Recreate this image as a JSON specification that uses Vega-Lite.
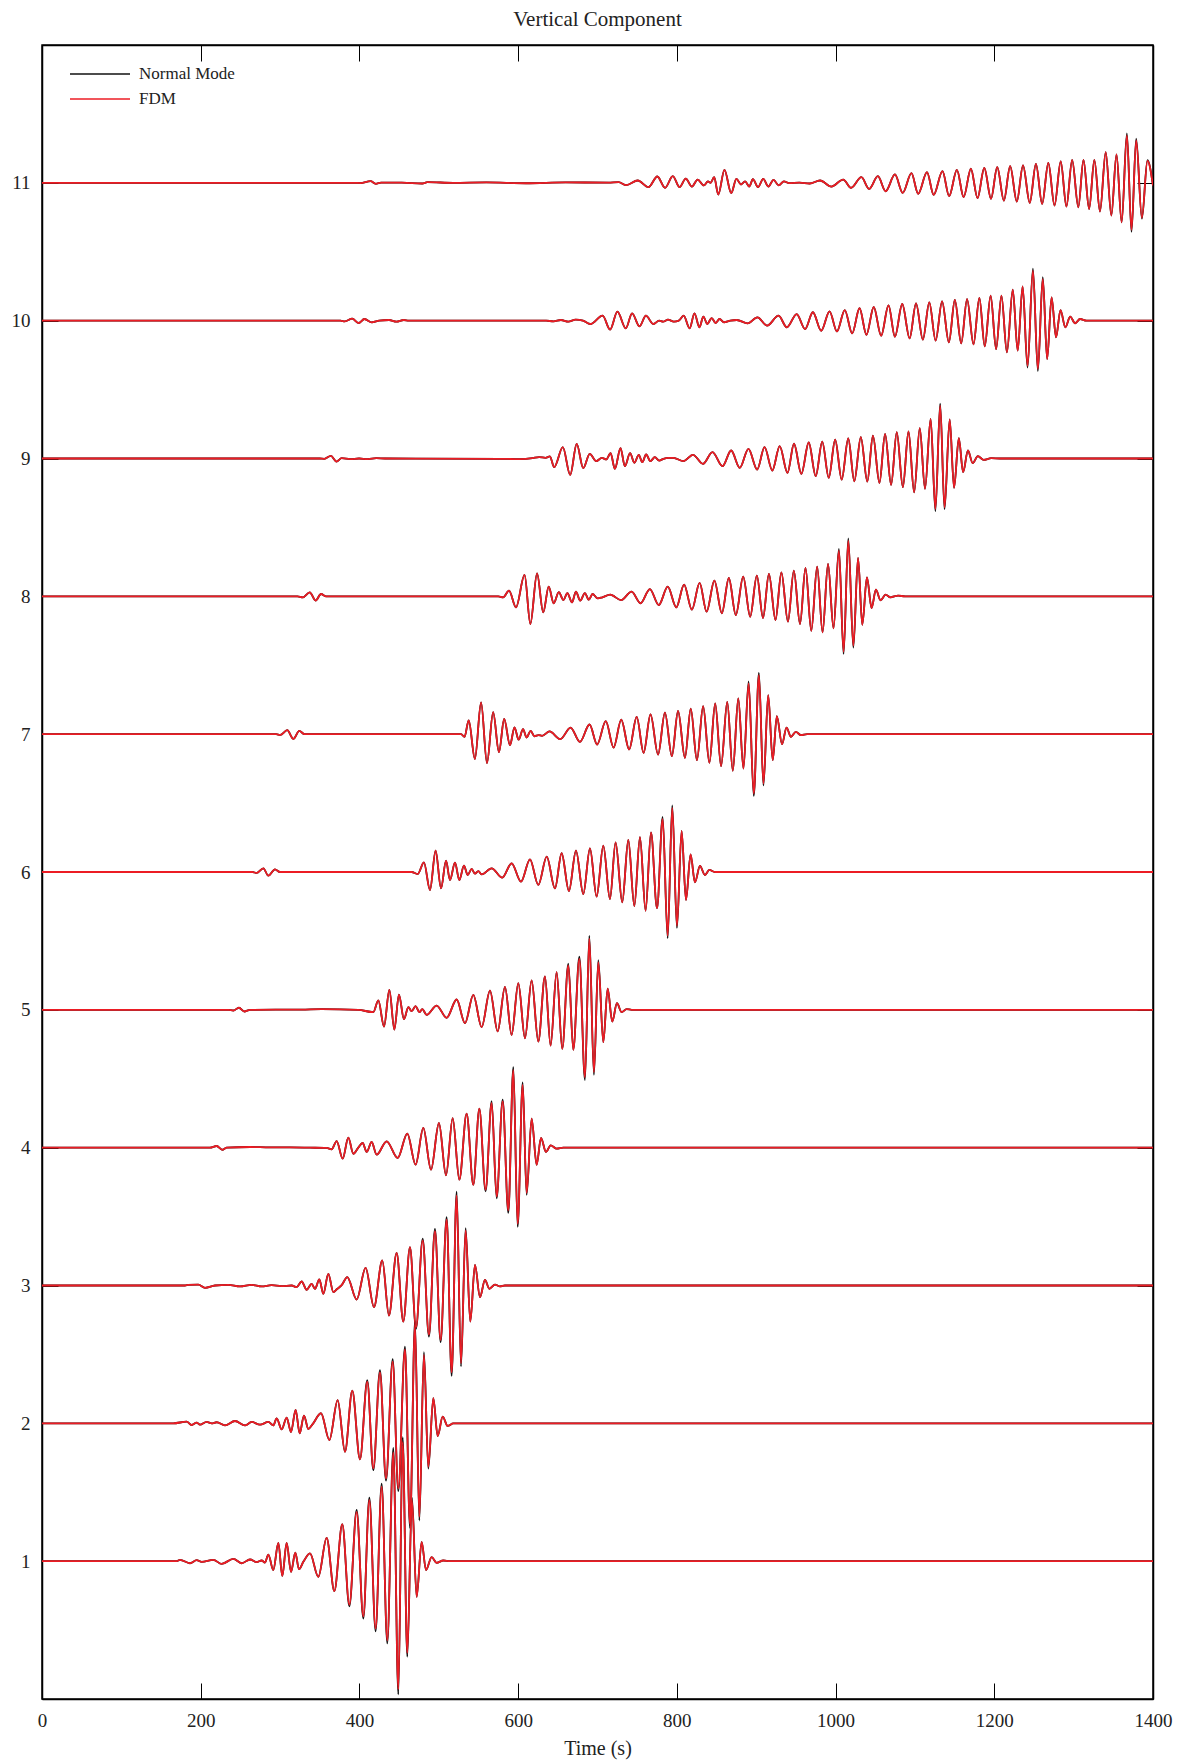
{
"$schema":"https://vega.github.io/schema/vega-lite/v6.json",
"width":1111,"height":1654,
"autosize":{"type":"none"},
"padding":{"left":42,"top":45,"right":35,"bottom":65},
"background":"white",
"title":{"text":"Vertical Component","font":"Liberation Serif","fontSize":21,"fontWeight":"normal","color":"#222","offset":15},
"config":{"view":{"stroke":"black","strokeWidth":1.5},"font":"Liberation Serif"},
"datasets":{"w":[
{"k":1,"t":0,"f":1,"n":1},{"k":1,"t":169.7,"f":1,"n":1},{"k":1,"t":173.9,"f":1.01,"n":1.01},{"k":1,"t":186.5,"f":0.985,"n":0.985},{"k":1,"t":194.9,"f":1.007,"n":1.007},{"k":1,"t":201.2,"f":0.995,"n":0.995},{"k":1,"t":215.9,"f":1.01,"n":1.01},{"k":1,"t":226.4,"f":0.98,"n":0.98},{"k":1,"t":241.1,"f":1.017,"n":1.017},{"k":1,"t":251.6,"f":0.985,"n":0.985},{"k":1,"t":262.1,"f":1.012,"n":1.012},{"k":1,"t":270.5,"f":0.993,"n":0.993},{"k":1,"t":276.8,"f":1.005,"n":1.005},{"k":1,"t":281,"f":0.99,"n":0.99},{"k":1,"t":285.2,"f":1.048,"n":1.048},{"k":1,"t":291.5,"f":0.935,"n":0.935},{"k":1,"t":297.8,"f":1.133,"n":1.133},{"k":1,"t":302.8,"f":0.893,"n":0.893},{"k":1,"t":308.3,"f":1.133,"n":1.133},{"k":1,"t":313.8,"f":0.923,"n":0.923},{"k":1,"t":319.2,"f":1.061,"n":1.061},{"k":1,"t":323.8,"f":0.942,"n":0.942},{"k":1,"t":329.3,"f":0.995,"n":0.995},{"k":1,"t":337.7,"f":1.056,"n":1.056},{"k":1,"t":348.2,"f":0.887,"n":0.887},{"k":1,"t":358.7,"f":1.169,"n":1.169},{"k":1,"t":368.4,"f":0.782,"n":0.782},{"k":1,"t":378.4,"f":1.269,"n":1.269},{"k":1,"t":387.3,"f":0.685,"n":0.672},{"k":1,"t":396.5,"f":1.358,"n":1.372},{"k":1,"t":404.9,"f":0.6,"n":0.584},{"k":1,"t":412.5,"f":1.443,"n":1.461},{"k":1,"t":420.4,"f":0.511,"n":0.491},{"k":1,"t":428,"f":1.54,"n":1.562},{"k":1,"t":435.1,"f":0.426,"n":0.403},{"k":1,"t":442.7,"f":1.79,"n":1.822},{"k":1,"t":449,"f":0.07,"n":0.033},{"k":1,"t":454.5,"f":1.866,"n":1.9},{"k":1,"t":460.3,"f":0.334,"n":0.307},{"k":1,"t":466.2,"f":1.443,"n":1.461},{"k":1,"t":472.1,"f":0.741,"n":0.741},{"k":1,"t":478.4,"f":1.14,"n":1.14},{"k":1,"t":483.9,"f":0.935,"n":0.935},{"k":1,"t":491,"f":1.03,"n":1.03},{"k":1,"t":497.3,"f":0.988,"n":0.988},{"k":1,"t":505.7,"f":1.005,"n":1.005},{"k":1,"t":514.1,"f":1,"n":1},{"k":1,"t":1400,"f":1,"n":1},
{"k":2,"t":0,"f":2,"n":2},{"k":2,"t":165.5,"f":2,"n":2},{"k":2,"t":182.3,"f":2.012,"n":2.012},{"k":2,"t":188.6,"f":1.988,"n":1.988},{"k":2,"t":194.9,"f":2.005,"n":2.005},{"k":2,"t":199.1,"f":1.99,"n":1.99},{"k":2,"t":207.5,"f":2.01,"n":2.01},{"k":2,"t":213.8,"f":2,"n":2},{"k":2,"t":220.1,"f":2.008,"n":2.008},{"k":2,"t":230.6,"f":1.985,"n":1.985},{"k":2,"t":243.2,"f":2.017,"n":2.017},{"k":2,"t":255.8,"f":1.985,"n":1.985},{"k":2,"t":264.2,"f":2.01,"n":2.01},{"k":2,"t":274.7,"f":1.99,"n":1.99},{"k":2,"t":285.2,"f":2.01,"n":2.01},{"k":2,"t":291.5,"f":1.985,"n":1.985},{"k":2,"t":295.7,"f":2.036,"n":2.036},{"k":2,"t":302,"f":1.956,"n":1.956},{"k":2,"t":308.3,"f":2.041,"n":2.041},{"k":2,"t":313.8,"f":1.937,"n":1.937},{"k":2,"t":319.6,"f":2.097,"n":2.097},{"k":2,"t":324.7,"f":1.927,"n":1.927},{"k":2,"t":330.1,"f":2.056,"n":2.056},{"k":2,"t":335.6,"f":1.959,"n":1.959},{"k":2,"t":340.6,"f":1.99,"n":1.99},{"k":2,"t":351.6,"f":2.073,"n":2.073},{"k":2,"t":362.1,"f":1.879,"n":1.879},{"k":2,"t":372.6,"f":2.169,"n":2.169},{"k":2,"t":381.8,"f":1.794,"n":1.794},{"k":2,"t":391,"f":2.237,"n":2.237},{"k":2,"t":400.7,"f":1.738,"n":1.738},{"k":2,"t":409.9,"f":2.302,"n":2.314},{"k":2,"t":417.5,"f":1.673,"n":1.66},{"k":2,"t":425.9,"f":2.37,"n":2.385},{"k":2,"t":433.5,"f":1.6,"n":1.584},{"k":2,"t":441.9,"f":2.448,"n":2.466},{"k":2,"t":449,"f":1.528,"n":1.509},{"k":2,"t":457.4,"f":2.536,"n":2.557},{"k":2,"t":463.7,"f":1.27,"n":1.241},{"k":2,"t":470,"f":2.714,"n":2.743},{"k":2,"t":475.5,"f":1.322,"n":1.295},{"k":2,"t":481.3,"f":2.496,"n":2.516},{"k":2,"t":486.8,"f":1.685,"n":1.672},{"k":2,"t":493.1,"f":2.182,"n":2.182},{"k":2,"t":498.6,"f":1.908,"n":1.908},{"k":2,"t":504.9,"f":2.048,"n":2.048},{"k":2,"t":511.2,"f":1.981,"n":1.981},{"k":2,"t":518.3,"f":2,"n":2},{"k":2,"t":1400,"f":2,"n":2},
{"k":3,"t":0,"f":3,"n":3},{"k":3,"t":180.2,"f":3,"n":3},{"k":3,"t":184.4,"f":3.005,"n":3.005},{"k":3,"t":197,"f":3.007,"n":3.007},{"k":3,"t":205.4,"f":2.983,"n":2.983},{"k":3,"t":218,"f":3,"n":3},{"k":3,"t":234.8,"f":3.005,"n":3.005},{"k":3,"t":249.5,"f":2.993,"n":2.993},{"k":3,"t":264.2,"f":3.005,"n":3.005},{"k":3,"t":276.8,"f":2.993,"n":2.993},{"k":3,"t":289.4,"f":3.002,"n":3.002},{"k":3,"t":302,"f":2.995,"n":2.995},{"k":3,"t":314.6,"f":3,"n":3},{"k":3,"t":320.9,"f":2.988,"n":2.988},{"k":3,"t":327.2,"f":3.029,"n":3.029},{"k":3,"t":333.5,"f":2.969,"n":2.969},{"k":3,"t":339.8,"f":3.012,"n":3.012},{"k":3,"t":344,"f":2.976,"n":2.976},{"k":3,"t":349.5,"f":3.044,"n":3.044},{"k":3,"t":354.5,"f":2.939,"n":2.939},{"k":3,"t":360.8,"f":3.085,"n":3.085},{"k":3,"t":367.1,"f":2.952,"n":2.952},{"k":3,"t":372.1,"f":2.976,"n":2.976},{"k":3,"t":377.6,"f":3.002,"n":3.002},{"k":3,"t":384.7,"f":3.061,"n":3.061},{"k":3,"t":396.5,"f":2.898,"n":2.898},{"k":3,"t":407.8,"f":3.128,"n":3.128},{"k":3,"t":418.3,"f":2.843,"n":2.843},{"k":3,"t":428.8,"f":3.182,"n":3.182},{"k":3,"t":437.2,"f":2.782,"n":2.782},{"k":3,"t":446.9,"f":3.237,"n":3.237},{"k":3,"t":455.3,"f":2.738,"n":2.738},{"k":3,"t":463.7,"f":3.278,"n":3.278},{"k":3,"t":471.3,"f":2.697,"n":2.685},{"k":3,"t":479.7,"f":3.327,"n":3.34},{"k":3,"t":487.6,"f":2.644,"n":2.63},{"k":3,"t":495.2,"f":3.395,"n":3.411},{"k":3,"t":502.3,"f":2.605,"n":2.589},{"k":3,"t":509.9,"f":3.477,"n":3.496},{"k":3,"t":516.2,"f":2.37,"n":2.345},{"k":3,"t":522.5,"f":3.654,"n":3.68},{"k":3,"t":528,"f":2.436,"n":2.413},{"k":3,"t":533.8,"f":3.4,"n":3.416},{"k":3,"t":539.7,"f":2.738,"n":2.738},{"k":3,"t":545.6,"f":3.15,"n":3.15},{"k":3,"t":551.9,"f":2.915,"n":2.915},{"k":3,"t":558.2,"f":3.041,"n":3.041},{"k":3,"t":563.7,"f":2.976,"n":2.976},{"k":3,"t":570.8,"f":3.007,"n":3.007},{"k":3,"t":577.1,"f":2.993,"n":2.993},{"k":3,"t":583.4,"f":3,"n":3},{"k":3,"t":1400,"f":3,"n":3},
{"k":4,"t":0,"f":4,"n":4},{"k":4,"t":211.7,"f":4,"n":4},{"k":4,"t":220.1,"f":4.012,"n":4.012},{"k":4,"t":227.2,"f":3.985,"n":3.985},{"k":4,"t":232.7,"f":4,"n":4},{"k":4,"t":262.1,"f":4.005,"n":4.005},{"k":4,"t":287.3,"f":4.002,"n":4.002},{"k":4,"t":312.5,"f":4.002,"n":4.002},{"k":4,"t":337.7,"f":4,"n":4},{"k":4,"t":358.7,"f":3.998,"n":3.998},{"k":4,"t":365,"f":3.988,"n":3.988},{"k":4,"t":371.3,"f":4.048,"n":4.048},{"k":4,"t":378.9,"f":3.92,"n":3.92},{"k":4,"t":386,"f":4.073,"n":4.073},{"k":4,"t":392.3,"f":3.956,"n":3.956},{"k":4,"t":398.6,"f":4,"n":4},{"k":4,"t":404.1,"f":4.034,"n":4.034},{"k":4,"t":409.1,"f":3.969,"n":3.969},{"k":4,"t":415.4,"f":4.041,"n":4.041},{"k":4,"t":421.7,"f":3.949,"n":3.949},{"k":4,"t":434.3,"f":4.046,"n":4.046},{"k":4,"t":448.2,"f":3.925,"n":3.925},{"k":4,"t":460.3,"f":4.102,"n":4.102},{"k":4,"t":470.8,"f":3.877,"n":3.877},{"k":4,"t":480.5,"f":4.143,"n":4.143},{"k":4,"t":490.2,"f":3.84,"n":3.84},{"k":4,"t":500.2,"f":4.179,"n":4.179},{"k":4,"t":509.1,"f":3.799,"n":3.799},{"k":4,"t":517.5,"f":4.215,"n":4.215},{"k":4,"t":525.9,"f":3.768,"n":3.768},{"k":4,"t":535.1,"f":4.247,"n":4.247},{"k":4,"t":543.5,"f":3.731,"n":3.731},{"k":4,"t":551.1,"f":4.283,"n":4.283},{"k":4,"t":559,"f":3.695,"n":3.683},{"k":4,"t":566.6,"f":4.324,"n":4.337},{"k":4,"t":572.9,"f":3.646,"n":3.632},{"k":4,"t":580.5,"f":4.336,"n":4.349},{"k":4,"t":587.6,"f":3.545,"n":3.527},{"k":4,"t":593.9,"f":4.562,"n":4.584},{"k":4,"t":599.4,"f":3.448,"n":3.426},{"k":4,"t":605.7,"f":4.455,"n":4.473},{"k":4,"t":610.7,"f":3.671,"n":3.658},{"k":4,"t":617,"f":4.211,"n":4.211},{"k":4,"t":623.3,"f":3.876,"n":3.876},{"k":4,"t":628.8,"f":4.07,"n":4.07},{"k":4,"t":635.1,"f":3.969,"n":3.969},{"k":4,"t":641,"f":4.017,"n":4.017},{"k":4,"t":648.5,"f":3.993,"n":3.993},{"k":4,"t":656.9,"f":4,"n":4},{"k":4,"t":1400,"f":4,"n":4},
{"k":5,"t":0,"f":5,"n":5},{"k":5,"t":235,"f":5,"n":5},{"k":5,"t":241.1,"f":4.995,"n":4.995},{"k":5,"t":248.2,"f":5.015,"n":5.015},{"k":5,"t":255,"f":4.988,"n":4.988},{"k":5,"t":262.1,"f":5,"n":5},{"k":5,"t":327.2,"f":5.002,"n":5.002},{"k":5,"t":352.4,"f":5.005,"n":5.005},{"k":5,"t":398.6,"f":5,"n":5},{"k":5,"t":417.5,"f":4.983,"n":4.983},{"k":5,"t":423.8,"f":5.068,"n":5.068},{"k":5,"t":431,"f":4.879,"n":4.879},{"k":5,"t":437.7,"f":5.145,"n":5.145},{"k":5,"t":444,"f":4.857,"n":4.857},{"k":5,"t":449.8,"f":5.111,"n":5.111},{"k":5,"t":456.1,"f":4.932,"n":4.932},{"k":5,"t":461.6,"f":5.019,"n":5.019},{"k":5,"t":465.8,"f":4.99,"n":4.99},{"k":5,"t":470.8,"f":5.027,"n":5.027},{"k":5,"t":475.5,"f":4.983,"n":4.983},{"k":5,"t":479.2,"f":5.005,"n":5.005},{"k":5,"t":484.7,"f":4.964,"n":4.964},{"k":5,"t":497.3,"f":5.031,"n":5.031},{"k":5,"t":509.9,"f":4.942,"n":4.942},{"k":5,"t":522.5,"f":5.075,"n":5.075},{"k":5,"t":533,"f":4.903,"n":4.903},{"k":5,"t":543.5,"f":5.109,"n":5.109},{"k":5,"t":554,"f":4.874,"n":4.874},{"k":5,"t":564.5,"f":5.14,"n":5.14},{"k":5,"t":574.2,"f":4.843,"n":4.843},{"k":5,"t":583.4,"f":5.167,"n":5.167},{"k":5,"t":591.8,"f":4.818,"n":4.818},{"k":5,"t":600.2,"f":5.194,"n":5.194},{"k":5,"t":608.6,"f":4.794,"n":4.794},{"k":5,"t":617,"f":5.213,"n":5.213},{"k":5,"t":625.4,"f":4.77,"n":4.77},{"k":5,"t":633.8,"f":5.242,"n":5.242},{"k":5,"t":640.9,"f":4.741,"n":4.741},{"k":5,"t":648.5,"f":5.274,"n":5.274},{"k":5,"t":655.6,"f":4.717,"n":4.717},{"k":5,"t":663.2,"f":5.322,"n":5.335},{"k":5,"t":669.5,"f":4.71,"n":4.71},{"k":5,"t":677.1,"f":5.37,"n":5.385},{"k":5,"t":684.2,"f":4.511,"n":4.491},{"k":5,"t":689.7,"f":5.516,"n":5.537},{"k":5,"t":695.5,"f":4.547,"n":4.529},{"k":5,"t":701,"f":5.346,"n":5.36},{"k":5,"t":707.3,"f":4.765,"n":4.765},{"k":5,"t":712.8,"f":5.153,"n":5.153},{"k":5,"t":718.6,"f":4.915,"n":4.915},{"k":5,"t":724.5,"f":5.048,"n":5.048},{"k":5,"t":730.4,"f":4.983,"n":4.983},{"k":5,"t":736.7,"f":5.005,"n":5.005},{"k":5,"t":743,"f":5,"n":5},{"k":5,"t":1400,"f":5,"n":5},
{"k":6,"t":0,"f":6,"n":6},{"k":6,"t":265,"f":6,"n":6},{"k":6,"t":270.5,"f":5.993,"n":5.993},{"k":6,"t":278.9,"f":6.027,"n":6.027},{"k":6,"t":285.2,"f":5.973,"n":5.973},{"k":6,"t":293.6,"f":6.019,"n":6.019},{"k":6,"t":299.9,"f":6,"n":6},{"k":6,"t":465.8,"f":6,"n":6},{"k":6,"t":473.4,"f":5.985,"n":5.985},{"k":6,"t":481.3,"f":6.07,"n":6.07},{"k":6,"t":488.9,"f":5.869,"n":5.869},{"k":6,"t":496,"f":6.155,"n":6.155},{"k":6,"t":502.8,"f":5.881,"n":5.881},{"k":6,"t":509.1,"f":6.082,"n":6.082},{"k":6,"t":514.1,"f":5.942,"n":5.942},{"k":6,"t":520.4,"f":6.068,"n":6.068},{"k":6,"t":525.9,"f":5.942,"n":5.942},{"k":6,"t":531.7,"f":6.046,"n":6.046},{"k":6,"t":536.4,"f":5.978,"n":5.978},{"k":6,"t":541.4,"f":6.022,"n":6.022},{"k":6,"t":545.6,"f":5.988,"n":5.988},{"k":6,"t":549.8,"f":6.007,"n":6.007},{"k":6,"t":554,"f":5.983,"n":5.983},{"k":6,"t":566.6,"f":6.027,"n":6.027},{"k":6,"t":580,"f":5.959,"n":5.959},{"k":6,"t":591.8,"f":6.063,"n":6.063},{"k":6,"t":603.6,"f":5.93,"n":5.93},{"k":6,"t":614.9,"f":6.092,"n":6.092},{"k":6,"t":625.4,"f":5.906,"n":5.906},{"k":6,"t":636,"f":6.111,"n":6.111},{"k":6,"t":646.4,"f":5.881,"n":5.881},{"k":6,"t":654.8,"f":6.136,"n":6.136},{"k":6,"t":664,"f":5.862,"n":5.862},{"k":6,"t":672.9,"f":6.155,"n":6.155},{"k":6,"t":682.1,"f":5.84,"n":5.84},{"k":6,"t":690.5,"f":6.172,"n":6.172},{"k":6,"t":698.9,"f":5.821,"n":5.821},{"k":6,"t":707.3,"f":6.191,"n":6.191},{"k":6,"t":715.7,"f":5.804,"n":5.804},{"k":6,"t":722.8,"f":6.215,"n":6.215},{"k":6,"t":731.2,"f":5.78,"n":5.78},{"k":6,"t":738.8,"f":6.232,"n":6.232},{"k":6,"t":746.4,"f":5.753,"n":5.753},{"k":6,"t":753.5,"f":6.252,"n":6.252},{"k":6,"t":760.6,"f":5.719,"n":5.719},{"k":6,"t":767.4,"f":6.288,"n":6.288},{"k":6,"t":775,"f":5.736,"n":5.736},{"k":6,"t":782.1,"f":6.385,"n":6.4},{"k":6,"t":788.4,"f":5.538,"n":5.52},{"k":6,"t":794.2,"f":6.465,"n":6.484},{"k":6,"t":800.1,"f":5.61,"n":5.594},{"k":6,"t":806,"f":6.298,"n":6.298},{"k":6,"t":811.5,"f":5.797,"n":5.797},{"k":6,"t":817.3,"f":6.128,"n":6.128},{"k":6,"t":822.8,"f":5.925,"n":5.925},{"k":6,"t":829.1,"f":6.044,"n":6.044},{"k":6,"t":835.4,"f":5.978,"n":5.978},{"k":6,"t":840.9,"f":6.015,"n":6.015},{"k":6,"t":848,"f":6,"n":6},{"k":6,"t":1400,"f":6,"n":6},
{"k":7,"t":0,"f":7,"n":7},{"k":7,"t":295,"f":7,"n":7},{"k":7,"t":300.3,"f":6.995,"n":6.995},{"k":7,"t":309,"f":7.029,"n":7.029},{"k":7,"t":316.8,"f":6.966,"n":6.966},{"k":7,"t":324.2,"f":7.024,"n":7.024},{"k":7,"t":330.7,"f":7,"n":7},{"k":7,"t":528.1,"f":7,"n":7},{"k":7,"t":532.4,"f":6.98,"n":6.98},{"k":7,"t":537.7,"f":7.1,"n":7.1},{"k":7,"t":545.5,"f":6.82,"n":6.82},{"k":7,"t":553.3,"f":7.23,"n":7.23},{"k":7,"t":560.7,"f":6.79,"n":6.79},{"k":7,"t":568.5,"f":7.16,"n":7.16},{"k":7,"t":575.8,"f":6.87,"n":6.87},{"k":7,"t":582.4,"f":7.11,"n":7.11},{"k":7,"t":589.7,"f":6.92,"n":6.92},{"k":7,"t":595.4,"f":7.05,"n":7.05},{"k":7,"t":600.6,"f":6.96,"n":6.96},{"k":7,"t":606.2,"f":7.036,"n":7.036},{"k":7,"t":610.6,"f":6.976,"n":6.976},{"k":7,"t":615.8,"f":7.024,"n":7.024},{"k":7,"t":620.5,"f":6.985,"n":6.985},{"k":7,"t":625.7,"f":6.993,"n":6.993},{"k":7,"t":630.1,"f":6.988,"n":6.988},{"k":7,"t":639.6,"f":7.02,"n":7.02},{"k":7,"t":653.1,"f":6.964,"n":6.964},{"k":7,"t":666.1,"f":7.048,"n":7.048},{"k":7,"t":677.8,"f":6.944,"n":6.944},{"k":7,"t":690,"f":7.07,"n":7.07},{"k":7,"t":699.5,"f":6.925,"n":6.925},{"k":7,"t":710.4,"f":7.094,"n":7.094},{"k":7,"t":720.3,"f":6.903,"n":6.903},{"k":7,"t":729.9,"f":7.106,"n":7.106},{"k":7,"t":739.9,"f":6.889,"n":6.889},{"k":7,"t":749.4,"f":7.125,"n":7.125},{"k":7,"t":758.1,"f":6.864,"n":6.864},{"k":7,"t":766.8,"f":7.143,"n":7.143},{"k":7,"t":776.3,"f":6.852,"n":6.852},{"k":7,"t":785,"f":7.157,"n":7.157},{"k":7,"t":793.7,"f":6.84,"n":6.84},{"k":7,"t":801.5,"f":7.169,"n":7.169},{"k":7,"t":810.2,"f":6.828,"n":6.828},{"k":7,"t":817.5,"f":7.186,"n":7.186},{"k":7,"t":825.3,"f":6.811,"n":6.811},{"k":7,"t":833.1,"f":7.203,"n":7.203},{"k":7,"t":841,"f":6.792,"n":6.792},{"k":7,"t":848.3,"f":7.223,"n":7.223},{"k":7,"t":855.7,"f":6.768,"n":6.768},{"k":7,"t":863.5,"f":7.235,"n":7.235},{"k":7,"t":870.5,"f":6.734,"n":6.734},{"k":7,"t":877.4,"f":7.259,"n":7.259},{"k":7,"t":883.9,"f":6.751,"n":6.751},{"k":7,"t":890.4,"f":7.368,"n":7.383},{"k":7,"t":896.9,"f":6.569,"n":6.552},{"k":7,"t":903.4,"f":7.428,"n":7.445},{"k":7,"t":909.1,"f":6.642,"n":6.628},{"k":7,"t":915.1,"f":7.283,"n":7.283},{"k":7,"t":920.8,"f":6.811,"n":6.811},{"k":7,"t":926,"f":7.131,"n":7.131},{"k":7,"t":932.5,"f":6.927,"n":6.927},{"k":7,"t":938.2,"f":7.048,"n":7.048},{"k":7,"t":943.8,"f":6.981,"n":6.981},{"k":7,"t":949.9,"f":7.017,"n":7.017},{"k":7,"t":956.4,"f":6.993,"n":6.993},{"k":7,"t":964.2,"f":7,"n":7},{"k":7,"t":1400,"f":7,"n":7},
{"k":8,"t":0,"f":8,"n":8},{"k":8,"t":322,"f":8,"n":8},{"k":8,"t":328.6,"f":7.993,"n":7.993},{"k":8,"t":337.4,"f":8.029,"n":8.029},{"k":8,"t":344.8,"f":7.969,"n":7.969},{"k":8,"t":351.6,"f":8.017,"n":8.017},{"k":8,"t":358,"f":8,"n":8},{"k":8,"t":575,"f":8,"n":8},{"k":8,"t":581.1,"f":7.993,"n":7.993},{"k":8,"t":588.5,"f":8.041,"n":8.041},{"k":8,"t":597.3,"f":7.92,"n":7.92},{"k":8,"t":608.1,"f":8.155,"n":8.155},{"k":8,"t":615.4,"f":7.799,"n":7.799},{"k":8,"t":623.8,"f":8.167,"n":8.167},{"k":8,"t":631.6,"f":7.884,"n":7.884},{"k":8,"t":638.5,"f":8.07,"n":8.07},{"k":8,"t":644.8,"f":7.95,"n":7.95},{"k":8,"t":651.2,"f":8.03,"n":8.03},{"k":8,"t":657.1,"f":7.973,"n":7.973},{"k":8,"t":662,"f":8.024,"n":8.024},{"k":8,"t":667.9,"f":7.956,"n":7.956},{"k":8,"t":672.8,"f":8.034,"n":8.034},{"k":8,"t":678.2,"f":7.969,"n":7.969},{"k":8,"t":684.1,"f":8.024,"n":8.024},{"k":8,"t":689,"f":7.976,"n":7.976},{"k":8,"t":693.9,"f":8.017,"n":8.017},{"k":8,"t":700.3,"f":7.985,"n":7.985},{"k":8,"t":706.1,"f":7.993,"n":7.993},{"k":8,"t":716,"f":8.012,"n":8.012},{"k":8,"t":729.7,"f":7.973,"n":7.973},{"k":8,"t":742.9,"f":8.034,"n":8.034},{"k":8,"t":754.2,"f":7.95,"n":7.95},{"k":8,"t":766,"f":8.053,"n":8.053},{"k":8,"t":777.2,"f":7.937,"n":7.937},{"k":8,"t":788.5,"f":8.07,"n":8.07},{"k":8,"t":799.3,"f":7.92,"n":7.92},{"k":8,"t":809.1,"f":8.085,"n":8.085},{"k":8,"t":818.9,"f":7.903,"n":7.903},{"k":8,"t":828.7,"f":8.097,"n":8.097},{"k":8,"t":837.5,"f":7.889,"n":7.889},{"k":8,"t":847.3,"f":8.114,"n":8.114},{"k":8,"t":856.7,"f":7.877,"n":7.877},{"k":8,"t":865.5,"f":8.133,"n":8.133},{"k":8,"t":874.3,"f":7.864,"n":7.864},{"k":8,"t":883.6,"f":8.143,"n":8.143},{"k":8,"t":892.4,"f":7.852,"n":7.852},{"k":8,"t":900.8,"f":8.15,"n":8.15},{"k":8,"t":908.6,"f":7.843,"n":7.843},{"k":8,"t":916,"f":8.163,"n":8.163},{"k":8,"t":924.3,"f":7.828,"n":7.828},{"k":8,"t":931.7,"f":8.174,"n":8.174},{"k":8,"t":940,"f":7.816,"n":7.816},{"k":8,"t":947.4,"f":8.186,"n":8.186},{"k":8,"t":955.2,"f":7.799,"n":7.799},{"k":8,"t":962.1,"f":8.206,"n":8.206},{"k":8,"t":969.4,"f":7.75,"n":7.75},{"k":8,"t":976.8,"f":8.215,"n":8.215},{"k":8,"t":983.6,"f":7.738,"n":7.738},{"k":8,"t":990.5,"f":8.235,"n":8.235},{"k":8,"t":997.4,"f":7.768,"n":7.768},{"k":8,"t":1004.2,"f":8.332,"n":8.345},{"k":8,"t":1010.1,"f":7.598,"n":7.582},{"k":8,"t":1016,"f":8.404,"n":8.42},{"k":8,"t":1022.4,"f":7.642,"n":7.628},{"k":8,"t":1028.3,"f":8.278,"n":8.278},{"k":8,"t":1033.7,"f":7.794,"n":7.794},{"k":8,"t":1039.5,"f":8.138,"n":8.138},{"k":8,"t":1045.4,"f":7.915,"n":7.915},{"k":8,"t":1050.8,"f":8.048,"n":8.048},{"k":8,"t":1056.7,"f":7.971,"n":7.971},{"k":8,"t":1063.1,"f":8.012,"n":8.012},{"k":8,"t":1069,"f":7.993,"n":7.993},{"k":8,"t":1078.8,"f":8.005,"n":8.005},{"k":8,"t":1087.6,"f":8,"n":8},{"k":8,"t":1400,"f":8,"n":8},
{"k":9,"t":0,"f":9,"n":9},{"k":9,"t":350,"f":9,"n":9},{"k":9,"t":355.8,"f":8.998,"n":8.998},{"k":9,"t":364,"f":9.019,"n":9.019},{"k":9,"t":371.1,"f":8.978,"n":8.978},{"k":9,"t":377.6,"f":9.002,"n":9.002},{"k":9,"t":388.6,"f":8.995,"n":8.995},{"k":9,"t":399.5,"f":9,"n":9},{"k":9,"t":410.4,"f":8.995,"n":8.995},{"k":9,"t":421.3,"f":9.002,"n":9.002},{"k":9,"t":432.3,"f":9,"n":9},{"k":9,"t":579.8,"f":8.998,"n":8.998},{"k":9,"t":601.7,"f":8.995,"n":8.995},{"k":9,"t":618.1,"f":9.002,"n":9.002},{"k":9,"t":626.3,"f":9.01,"n":9.01},{"k":9,"t":634.5,"f":9.005,"n":9.005},{"k":9,"t":640,"f":9.015,"n":9.015},{"k":9,"t":645.4,"f":8.937,"n":8.937},{"k":9,"t":656.3,"f":9.082,"n":9.082},{"k":9,"t":665.6,"f":8.881,"n":8.881},{"k":9,"t":673.8,"f":9.106,"n":9.106},{"k":9,"t":682,"f":8.93,"n":8.93},{"k":9,"t":690.2,"f":9.034,"n":9.034},{"k":9,"t":698.4,"f":8.981,"n":8.981},{"k":9,"t":705.5,"f":9.005,"n":9.005},{"k":9,"t":711,"f":8.993,"n":8.993},{"k":9,"t":716.5,"f":9.039,"n":9.039},{"k":9,"t":721.9,"f":8.925,"n":8.925},{"k":9,"t":729,"f":9.075,"n":9.075},{"k":9,"t":734.5,"f":8.944,"n":8.944},{"k":9,"t":741,"f":9.039,"n":9.039},{"k":9,"t":746.5,"f":8.969,"n":8.969},{"k":9,"t":752,"f":9.027,"n":9.027},{"k":9,"t":756.4,"f":8.973,"n":8.973},{"k":9,"t":761.3,"f":9.029,"n":9.029},{"k":9,"t":766.7,"f":8.981,"n":8.981},{"k":9,"t":772.2,"f":9.01,"n":9.01},{"k":9,"t":777.7,"f":8.985,"n":8.985},{"k":9,"t":783.1,"f":8.998,"n":8.998},{"k":9,"t":789.1,"f":9.005,"n":9.005},{"k":9,"t":795.7,"f":9.005,"n":9.005},{"k":9,"t":808.3,"f":8.981,"n":8.981},{"k":9,"t":820.3,"f":9.027,"n":9.027},{"k":9,"t":832.9,"f":8.961,"n":8.961},{"k":9,"t":844.9,"f":9.046,"n":9.046},{"k":9,"t":857.5,"f":8.944,"n":8.944},{"k":9,"t":868.4,"f":9.058,"n":9.058},{"k":9,"t":879.3,"f":8.932,"n":8.932},{"k":9,"t":890.2,"f":9.07,"n":9.07},{"k":9,"t":901.2,"f":8.92,"n":8.92},{"k":9,"t":910.5,"f":9.082,"n":9.082},{"k":9,"t":920.3,"f":8.913,"n":8.913},{"k":9,"t":929.6,"f":9.09,"n":9.09},{"k":9,"t":939.4,"f":8.896,"n":8.896},{"k":9,"t":947.6,"f":9.107,"n":9.107},{"k":9,"t":956.9,"f":8.889,"n":8.889},{"k":9,"t":966.2,"f":9.116,"n":9.116},{"k":9,"t":975,"f":8.872,"n":8.872},{"k":9,"t":983.2,"f":9.123,"n":9.123},{"k":9,"t":991.4,"f":8.86,"n":8.86},{"k":9,"t":999.5,"f":9.136,"n":9.136},{"k":9,"t":1007.7,"f":8.847,"n":8.847},{"k":9,"t":1016,"f":9.145,"n":9.145},{"k":9,"t":1023.6,"f":8.835,"n":8.835},{"k":9,"t":1031.8,"f":9.155,"n":9.155},{"k":9,"t":1040,"f":8.833,"n":8.833},{"k":9,"t":1047.1,"f":9.165,"n":9.165},{"k":9,"t":1055.3,"f":8.823,"n":8.823},{"k":9,"t":1062.4,"f":9.179,"n":9.179},{"k":9,"t":1070,"f":8.809,"n":8.809},{"k":9,"t":1077.1,"f":9.191,"n":9.191},{"k":9,"t":1084.8,"f":8.792,"n":8.792},{"k":9,"t":1091.9,"f":9.196,"n":9.196},{"k":9,"t":1099,"f":8.755,"n":8.755},{"k":9,"t":1106.1,"f":9.22,"n":9.22},{"k":9,"t":1112.7,"f":8.78,"n":8.78},{"k":9,"t":1119.8,"f":9.288,"n":9.288},{"k":9,"t":1125.8,"f":8.634,"n":8.619},{"k":9,"t":1131.8,"f":9.383,"n":9.398},{"k":9,"t":1137.3,"f":8.646,"n":8.632},{"k":9,"t":1143.8,"f":9.283,"n":9.283},{"k":9,"t":1149.3,"f":8.787,"n":8.787},{"k":9,"t":1155.3,"f":9.148,"n":9.148},{"k":9,"t":1160.7,"f":8.901,"n":8.901},{"k":9,"t":1166.8,"f":9.058,"n":9.058},{"k":9,"t":1172.8,"f":8.966,"n":8.966},{"k":9,"t":1179.3,"f":9.017,"n":9.017},{"k":9,"t":1186.5,"f":8.99,"n":8.99},{"k":9,"t":1196.3,"f":9.002,"n":9.002},{"k":9,"t":1207.2,"f":9,"n":9},{"k":9,"t":1400,"f":9,"n":9},
{"k":10,"t":0,"f":10,"n":10},{"k":10,"t":376,"f":10,"n":10},{"k":10,"t":381.6,"f":9.995,"n":9.995},{"k":10,"t":390.9,"f":10.015,"n":10.015},{"k":10,"t":398.9,"f":9.983,"n":9.983},{"k":10,"t":406.3,"f":10.012,"n":10.012},{"k":10,"t":415.6,"f":9.988,"n":9.988},{"k":10,"t":424.9,"f":10,"n":10},{"k":10,"t":437.3,"f":10.005,"n":10.005},{"k":10,"t":446.6,"f":9.993,"n":9.993},{"k":10,"t":455.9,"f":10.005,"n":10.005},{"k":10,"t":462,"f":10,"n":10},{"k":10,"t":635.3,"f":10,"n":10},{"k":10,"t":644.6,"f":9.995,"n":9.995},{"k":10,"t":653.9,"f":10.005,"n":10.005},{"k":10,"t":663.2,"f":9.993,"n":9.993},{"k":10,"t":672.5,"f":10.007,"n":10.007},{"k":10,"t":681.7,"f":10,"n":10},{"k":10,"t":691,"f":9.976,"n":9.976},{"k":10,"t":706.5,"f":10.036,"n":10.036},{"k":10,"t":715.8,"f":9.935,"n":9.935},{"k":10,"t":725.1,"f":10.065,"n":10.065},{"k":10,"t":735.6,"f":9.944,"n":9.944},{"k":10,"t":743.6,"f":10.053,"n":10.053},{"k":10,"t":752.9,"f":9.959,"n":9.959},{"k":10,"t":761,"f":10.036,"n":10.036},{"k":10,"t":770.3,"f":9.976,"n":9.976},{"k":10,"t":777.7,"f":10,"n":10},{"k":10,"t":782.6,"f":9.993,"n":9.993},{"k":10,"t":788.8,"f":10.007,"n":10.007},{"k":10,"t":796.2,"f":9.993,"n":9.993},{"k":10,"t":802.4,"f":10,"n":10},{"k":10,"t":808.6,"f":10.036,"n":10.036},{"k":10,"t":816.1,"f":9.944,"n":9.944},{"k":10,"t":822.2,"f":10.053,"n":10.053},{"k":10,"t":828.4,"f":9.952,"n":9.952},{"k":10,"t":833.4,"f":10.029,"n":10.029},{"k":10,"t":838.3,"f":9.976,"n":9.976},{"k":10,"t":843.9,"f":10.019,"n":10.019},{"k":10,"t":848.8,"f":9.983,"n":9.983},{"k":10,"t":853.8,"f":10.012,"n":10.012},{"k":10,"t":859.4,"f":9.988,"n":9.988},{"k":10,"t":867.4,"f":10,"n":10},{"k":10,"t":875.5,"f":10.005,"n":10.005},{"k":10,"t":889.1,"f":9.981,"n":9.981},{"k":10,"t":901.5,"f":10.024,"n":10.024},{"k":10,"t":913.8,"f":9.964,"n":9.964},{"k":10,"t":928.1,"f":10.036,"n":10.036},{"k":10,"t":938.6,"f":9.952,"n":9.952},{"k":10,"t":951,"f":10.048,"n":10.048},{"k":10,"t":961.5,"f":9.939,"n":9.939},{"k":10,"t":971.4,"f":10.061,"n":10.061},{"k":10,"t":981.9,"f":9.927,"n":9.927},{"k":10,"t":992.4,"f":10.068,"n":10.068},{"k":10,"t":1001.7,"f":9.922,"n":9.922},{"k":10,"t":1011.6,"f":10.077,"n":10.077},{"k":10,"t":1020.9,"f":9.908,"n":9.908},{"k":10,"t":1030.2,"f":10.09,"n":10.09},{"k":10,"t":1038.9,"f":9.898,"n":9.898},{"k":10,"t":1048.1,"f":10.099,"n":10.099},{"k":10,"t":1057.4,"f":9.891,"n":9.891},{"k":10,"t":1066.7,"f":10.111,"n":10.111},{"k":10,"t":1074.8,"f":9.884,"n":9.884},{"k":10,"t":1084,"f":10.121,"n":10.121},{"k":10,"t":1093.3,"f":9.872,"n":9.872},{"k":10,"t":1101.4,"f":10.126,"n":10.126},{"k":10,"t":1110,"f":9.862,"n":9.862},{"k":10,"t":1118.1,"f":10.133,"n":10.133},{"k":10,"t":1126.1,"f":9.855,"n":9.855},{"k":10,"t":1134.2,"f":10.14,"n":10.14},{"k":10,"t":1142.8,"f":9.843,"n":9.843},{"k":10,"t":1150.3,"f":10.15,"n":10.15},{"k":10,"t":1158.3,"f":9.835,"n":9.835},{"k":10,"t":1165.7,"f":10.157,"n":10.157},{"k":10,"t":1173.8,"f":9.828,"n":9.828},{"k":10,"t":1181.2,"f":10.165,"n":10.165},{"k":10,"t":1188,"f":9.814,"n":9.814},{"k":10,"t":1195.4,"f":10.182,"n":10.182},{"k":10,"t":1202.3,"f":9.794,"n":9.794},{"k":10,"t":1209,"f":10.182,"n":10.182},{"k":10,"t":1215.9,"f":9.77,"n":9.77},{"k":10,"t":1223.3,"f":10.225,"n":10.225},{"k":10,"t":1229.5,"f":9.782,"n":9.782},{"k":10,"t":1235.7,"f":10.249,"n":10.249},{"k":10,"t":1241.9,"f":9.673,"n":9.66},{"k":10,"t":1248.7,"f":10.363,"n":10.378},{"k":10,"t":1254.9,"f":9.649,"n":9.635},{"k":10,"t":1261.1,"f":10.303,"n":10.315},{"k":10,"t":1266.6,"f":9.721,"n":9.721},{"k":10,"t":1272.2,"f":10.169,"n":10.169},{"k":10,"t":1277.8,"f":9.879,"n":9.879},{"k":10,"t":1283.4,"f":10.077,"n":10.077},{"k":10,"t":1289.5,"f":9.952,"n":9.952},{"k":10,"t":1295.7,"f":10.029,"n":10.029},{"k":10,"t":1301.9,"f":9.981,"n":9.981},{"k":10,"t":1308.1,"f":10.012,"n":10.012},{"k":10,"t":1316.1,"f":10,"n":10},{"k":10,"t":1400,"f":10,"n":10},
{"k":11,"t":0,"f":11,"n":11},{"k":11,"t":395,"f":11,"n":11},{"k":11,"t":401.1,"f":10.998,"n":10.998},{"k":11,"t":414.1,"f":11.012,"n":11.012},{"k":11,"t":420.6,"f":10.993,"n":10.993},{"k":11,"t":427.2,"f":11.002,"n":11.002},{"k":11,"t":453.2,"f":11.002,"n":11.002},{"k":11,"t":479.2,"f":10.995,"n":10.995},{"k":11,"t":485.7,"f":11.005,"n":11.005},{"k":11,"t":518.3,"f":11,"n":11},{"k":11,"t":560,"f":11.003,"n":11.003},{"k":11,"t":610,"f":10.997,"n":10.997},{"k":11,"t":660,"f":11.003,"n":11.003},{"k":11,"t":713.6,"f":11.002,"n":11.002},{"k":11,"t":726.6,"f":11.005,"n":11.005},{"k":11,"t":736.3,"f":10.983,"n":10.983},{"k":11,"t":750.7,"f":11.017,"n":11.017},{"k":11,"t":764.3,"f":10.969,"n":10.969},{"k":11,"t":775.4,"f":11.046,"n":11.046},{"k":11,"t":785.1,"f":10.964,"n":10.964},{"k":11,"t":794.9,"f":11.048,"n":11.048},{"k":11,"t":803.4,"f":10.969,"n":10.969},{"k":11,"t":811.2,"f":11.031,"n":11.031},{"k":11,"t":819,"f":10.973,"n":10.973},{"k":11,"t":826.2,"f":11.024,"n":11.024},{"k":11,"t":834,"f":10.981,"n":10.981},{"k":11,"t":839.2,"f":11.01,"n":11.01},{"k":11,"t":842.5,"f":11,"n":11},{"k":11,"t":847,"f":11.041,"n":11.041},{"k":11,"t":852.2,"f":10.915,"n":10.915},{"k":11,"t":860,"f":11.094,"n":11.094},{"k":11,"t":868.5,"f":10.925,"n":10.925},{"k":11,"t":875,"f":11.029,"n":11.029},{"k":11,"t":880.8,"f":10.988,"n":10.988},{"k":11,"t":886,"f":11.01,"n":11.01},{"k":11,"t":891.3,"f":10.973,"n":10.973},{"k":11,"t":895.8,"f":11.027,"n":11.027},{"k":11,"t":902.3,"f":10.969,"n":10.969},{"k":11,"t":908.8,"f":11.029,"n":11.029},{"k":11,"t":915.3,"f":10.973,"n":10.973},{"k":11,"t":921.8,"f":11.022,"n":11.022},{"k":11,"t":928.3,"f":10.981,"n":10.981},{"k":11,"t":934.9,"f":11.01,"n":11.01},{"k":11,"t":941.4,"f":10.998,"n":10.998},{"k":11,"t":954.4,"f":11.002,"n":11.002},{"k":11,"t":967.4,"f":10.995,"n":10.995},{"k":11,"t":980.4,"f":11.017,"n":11.017},{"k":11,"t":994.7,"f":10.973,"n":10.973},{"k":11,"t":1009.7,"f":11.024,"n":11.024},{"k":11,"t":1019.5,"f":10.964,"n":10.964},{"k":11,"t":1032.5,"f":11.041,"n":11.041},{"k":11,"t":1042.3,"f":10.956,"n":10.956},{"k":11,"t":1053.3,"f":11.048,"n":11.048},{"k":11,"t":1063.1,"f":10.939,"n":10.939},{"k":11,"t":1074.8,"f":11.061,"n":11.061},{"k":11,"t":1084.6,"f":10.927,"n":10.927},{"k":11,"t":1095.6,"f":11.07,"n":11.07},{"k":11,"t":1104.1,"f":10.92,"n":10.92},{"k":11,"t":1115.2,"f":11.077,"n":11.077},{"k":11,"t":1123.6,"f":10.913,"n":10.913},{"k":11,"t":1134.7,"f":11.085,"n":11.085},{"k":11,"t":1143.1,"f":10.903,"n":10.903},{"k":11,"t":1152.9,"f":11.094,"n":11.094},{"k":11,"t":1161.4,"f":10.896,"n":10.896},{"k":11,"t":1170.5,"f":11.102,"n":11.102},{"k":11,"t":1178.9,"f":10.889,"n":10.889},{"k":11,"t":1187.4,"f":11.109,"n":11.109},{"k":11,"t":1195.9,"f":10.884,"n":10.884},{"k":11,"t":1203.7,"f":11.114,"n":11.114},{"k":11,"t":1212.1,"f":10.872,"n":10.872},{"k":11,"t":1220,"f":11.121,"n":11.121},{"k":11,"t":1228.4,"f":10.864,"n":10.864},{"k":11,"t":1236.2,"f":11.126,"n":11.126},{"k":11,"t":1244.7,"f":10.855,"n":10.855},{"k":11,"t":1252.5,"f":11.138,"n":11.138},{"k":11,"t":1260.3,"f":10.847,"n":10.847},{"k":11,"t":1268.1,"f":11.145,"n":11.145},{"k":11,"t":1275.9,"f":10.835,"n":10.835},{"k":11,"t":1283.7,"f":11.155,"n":11.155},{"k":11,"t":1290.9,"f":10.828,"n":10.828},{"k":11,"t":1298.1,"f":11.167,"n":11.167},{"k":11,"t":1305.9,"f":10.823,"n":10.823},{"k":11,"t":1312.4,"f":11.167,"n":11.167},{"k":11,"t":1319.5,"f":10.81,"n":10.81},{"k":11,"t":1326.1,"f":11.167,"n":11.167},{"k":11,"t":1333.2,"f":10.792,"n":10.792},{"k":11,"t":1340.4,"f":11.223,"n":11.223},{"k":11,"t":1347.5,"f":10.763,"n":10.763},{"k":11,"t":1354,"f":11.206,"n":11.206},{"k":11,"t":1360.5,"f":10.714,"n":10.714},{"k":11,"t":1367.1,"f":11.344,"n":11.358},{"k":11,"t":1372.9,"f":10.659,"n":10.645},{"k":11,"t":1378.8,"f":11.307,"n":11.32},{"k":11,"t":1386,"f":10.746,"n":10.74},{"k":11,"t":1393,"f":11.16,"n":11.165},{"k":11,"t":1400,"f":10.98,"n":10.98}
]},
"data":{"name":"w"},
"layer":[
{"mark":{"type":"line","interpolate":"monotone","strokeWidth":1.8,"clip":true},
 "encoding":{
  "x":{"field":"t","type":"quantitative","scale":{"domain":[0,1400],"nice":false,"zero":false},
       "axis":{"orient":"bottom","values":[0,200,400,600,800,1000,1200,1400],"title":"Time (s)","titleFont":"Liberation Serif","titleFontSize":20,"titleFontWeight":"normal","titleColor":"#222","titlePadding":8,"labelFont":"Liberation Serif","labelFontSize":19,"labelColor":"#222","labelFlush":false,"tickSize":-16,"tickColor":"black","labelPadding":28,"domainColor":"black","domainWidth":1.5,"grid":false,"format":"d"}},
  "y":{"field":"n","type":"quantitative","scale":{"domain":[0,12],"nice":false,"zero":false},
       "axis":{"orient":"left","values":[1,2,3,4,5,6,7,8,9,10,11],"title":null,"labelFont":"Liberation Serif","labelFontSize":19,"labelColor":"#222","labelFlush":false,"tickSize":-16,"tickColor":"black","labelPadding":28,"domainColor":"black","domainWidth":1.5,"grid":false}},
  "detail":{"field":"k","type":"nominal"},
  "color":{"datum":"Normal Mode","type":"nominal","scale":{"domain":["Normal Mode","FDM"],"range":["#111111","#ec1c24"]},
    "legend":{"orient":"none","legendX":47,"legendY":18,"title":null,"symbolType":"M-3,0H3","symbolSize":400,"symbolStrokeWidth":1.3,"labelFont":"Liberation Serif","labelFontSize":17,"labelColor":"#222","labelOffset":28,"rowPadding":6,"padding":0}}
 }},
{"mark":{"type":"line","interpolate":"monotone","strokeWidth":1.8,"clip":true},
 "encoding":{
  "x":{"field":"t","type":"quantitative","axis":{"orient":"top","values":[0,200,400,600,800,1000,1200,1400],"labels":false,"title":null,"tickSize":-16,"tickColor":"black","domainColor":"black","domainWidth":1.5,"grid":false}},
  "y":{"field":"f","type":"quantitative","axis":{"orient":"right","values":[1,2,3,4,5,6,7,8,9,10,11],"labels":false,"title":null,"tickSize":-16,"tickColor":"black","domainColor":"black","domainWidth":1.5,"grid":false}},
  "detail":{"field":"k","type":"nominal"},
  "color":{"datum":"FDM","type":"nominal"}
 }}
],
"resolve":{"axis":{"x":"independent","y":"independent"}}
}
